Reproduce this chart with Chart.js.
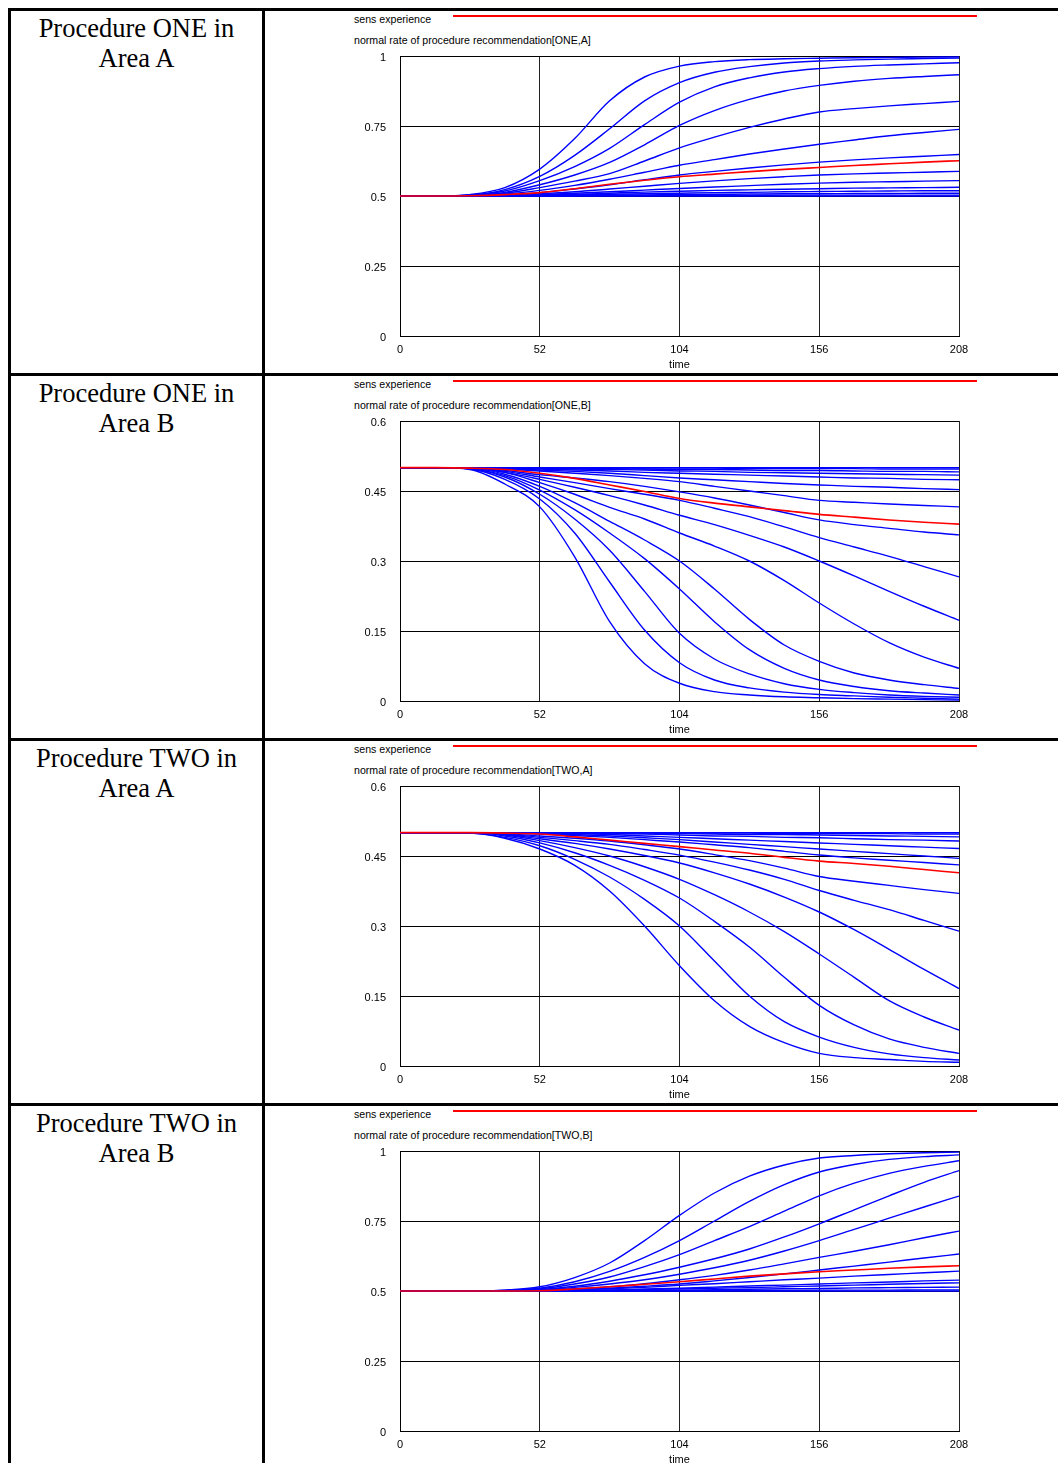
<!DOCTYPE html>
<html>
<head>
<meta charset="utf-8">
<script src="https://cdn.jsdelivr.net/npm/chart.js@4.4.1/dist/chart.umd.min.js"></script>
<style>
  html, body { margin: 0; padding: 0; background: #fff; }
  body { width: 1058px; height: 1463px; position: relative; overflow: hidden; }
  .rule { position: absolute; background: #000; }
  .label {
    position: absolute; left: 11px; width: 251px; text-align: center;
    font-family: "Liberation Serif", "Times New Roman", serif;
    font-size: 26.5px; line-height: 30px; color: #000;
  }
  .legend {
    position: absolute; left: 354px; white-space: nowrap; color: #000;
    font-family: "Liberation Sans", Arial, sans-serif; font-size: 10.6px; line-height: 12px;
  }
  .swatch { position: absolute; left: 453px; width: 524px; height: 2px; background: #ff0000; }
  canvas { position: absolute; left: 265px; }
</style>
</head>
<body>
<script>
const weeks = [0, 13, 26, 39, 52, 65, 78, 91, 104, 117, 130, 143, 156, 169, 182, 195, 208];
const xTicks = [0, 52, 104, 156, 208];
const xLabels = ["0", "52", "104", "156", "208"];
const yTicksFull = [0, 0.25, 0.5, 0.75, 1];
const yLabelsFull = ["0", "0.25", "0.5", "0.75", "1"];
const yTicksLow = [0, 0.15, 0.3, 0.45, 0.6];
const yLabelsLow = ["0", "0.15", "0.3", "0.45", "0.6"];

const rowLabels = ["Procedure ONE in<br>Area A", "Procedure ONE in<br>Area B",
  "Procedure TWO in<br>Area A", "Procedure TWO in<br>Area B"];
const baseName = "sens experience";
const varNames = ["normal rate of procedure recommendation[ONE,A]",
  "normal rate of procedure recommendation[ONE,B]",
  "normal rate of procedure recommendation[TWO,A]",
  "normal rate of procedure recommendation[TWO,B]"];

const oneABase = [0.5, 0.5, 0.501, 0.505, 0.512, 0.526, 0.542, 0.556, 0.569, 0.578, 0.587, 0.595, 0.602, 0.609, 0.615, 0.621, 0.626];
const oneARuns = [
  [0.5, 0.5, 0.505, 0.53, 0.596, 0.705, 0.84, 0.925, 0.964, 0.98, 0.987, 0.99, 0.992, 0.994, 0.995, 0.996, 0.997],
  [0.5, 0.5, 0.503, 0.523, 0.57, 0.645, 0.74, 0.84, 0.905, 0.942, 0.962, 0.975, 0.982, 0.986, 0.989, 0.991, 0.993],
  [0.5, 0.5, 0.503, 0.518, 0.555, 0.605, 0.67, 0.755, 0.835, 0.89, 0.922, 0.943, 0.955, 0.963, 0.968, 0.972, 0.976],
  [0.5, 0.5, 0.502, 0.513, 0.54, 0.575, 0.62, 0.683, 0.752, 0.805, 0.845, 0.875, 0.895, 0.91, 0.92, 0.927, 0.933],
  [0.5, 0.5, 0.502, 0.51, 0.53, 0.553, 0.58, 0.625, 0.672, 0.71, 0.745, 0.775, 0.8, 0.812, 0.822, 0.83, 0.838],
  [0.5, 0.5, 0.501, 0.507, 0.52, 0.538, 0.56, 0.585, 0.61, 0.63, 0.65, 0.668, 0.685, 0.7, 0.715, 0.727, 0.738],
  [0.5, 0.5, 0.501, 0.505, 0.512, 0.525, 0.54, 0.558, 0.575, 0.588, 0.6, 0.611, 0.621, 0.629, 0.636, 0.642, 0.648],
  [0.5, 0.5, 0.5, 0.503, 0.508, 0.515, 0.525, 0.535, 0.545, 0.554, 0.562, 0.569, 0.575, 0.579, 0.582, 0.585, 0.588],
  [0.5, 0.5, 0.5, 0.502, 0.505, 0.51, 0.515, 0.521, 0.527, 0.532, 0.537, 0.542, 0.546, 0.549, 0.551, 0.553, 0.555],
  [0.5, 0.5, 0.5, 0.501, 0.503, 0.506, 0.51, 0.514, 0.517, 0.52, 0.522, 0.524, 0.526, 0.528, 0.529, 0.53, 0.531],
  [0.5, 0.5, 0.5, 0.501, 0.502, 0.504, 0.506, 0.508, 0.51, 0.512, 0.513, 0.515, 0.516, 0.517, 0.518, 0.519, 0.519],
  [0.5, 0.5, 0.5, 0.5, 0.501, 0.502, 0.503, 0.504, 0.505, 0.506, 0.507, 0.508, 0.508, 0.509, 0.509, 0.51, 0.51],
  [0.5, 0.5, 0.5, 0.5, 0.5, 0.5, 0.501, 0.501, 0.502, 0.502, 0.502, 0.503, 0.503, 0.503, 0.503, 0.503, 0.503],
  [0.5, 0.5, 0.5, 0.5, 0.5, 0.5, 0.5, 0.5, 0.5, 0.5, 0.5, 0.5, 0.5, 0.5, 0.5, 0.5, 0.5]
];

const oneBBase = [0.5, 0.5, 0.499, 0.496, 0.488, 0.477, 0.463, 0.449, 0.434, 0.424, 0.416, 0.408, 0.4, 0.394, 0.388, 0.383, 0.379];
const oneBRuns = [
  [0.5, 0.5, 0.496, 0.465, 0.416, 0.309, 0.17, 0.08, 0.038, 0.02, 0.013, 0.009, 0.007, 0.005, 0.004, 0.003, 0.002],
  [0.5, 0.5, 0.497, 0.475, 0.433, 0.36, 0.255, 0.152, 0.082, 0.045, 0.028, 0.019, 0.014, 0.011, 0.008, 0.006, 0.004],
  [0.5, 0.5, 0.498, 0.48, 0.443, 0.39, 0.323, 0.235, 0.145, 0.09, 0.058, 0.037, 0.025, 0.018, 0.013, 0.01, 0.008],
  [0.5, 0.5, 0.498, 0.483, 0.452, 0.41, 0.36, 0.305, 0.24, 0.17, 0.11, 0.07, 0.045, 0.031, 0.022, 0.017, 0.013],
  [0.5, 0.5, 0.499, 0.486, 0.46, 0.425, 0.385, 0.345, 0.3, 0.24, 0.175, 0.12, 0.085, 0.06, 0.045, 0.035, 0.027],
  [0.5, 0.5, 0.499, 0.49, 0.468, 0.443, 0.415, 0.39, 0.36, 0.332, 0.3, 0.258, 0.21, 0.165, 0.125, 0.094, 0.07],
  [0.5, 0.5, 0.5, 0.49, 0.475, 0.458, 0.44, 0.42, 0.398, 0.378, 0.355, 0.33, 0.3, 0.268, 0.235, 0.203, 0.173],
  [0.5, 0.5, 0.5, 0.492, 0.48, 0.468, 0.455, 0.443, 0.43, 0.413, 0.395, 0.373, 0.35, 0.33, 0.31, 0.288, 0.266],
  [0.5, 0.5, 0.5, 0.494, 0.485, 0.478, 0.47, 0.46, 0.448, 0.435, 0.42, 0.404, 0.388, 0.378, 0.37, 0.362, 0.356],
  [0.5, 0.5, 0.5, 0.497, 0.493, 0.488, 0.483, 0.477, 0.47, 0.46, 0.45, 0.44, 0.43, 0.426, 0.422, 0.419, 0.416],
  [0.5, 0.5, 0.5, 0.498, 0.495, 0.492, 0.488, 0.483, 0.478, 0.474, 0.47, 0.466, 0.463, 0.46, 0.458, 0.455, 0.453],
  [0.5, 0.5, 0.5, 0.499, 0.497, 0.495, 0.493, 0.49, 0.488, 0.486, 0.484, 0.482, 0.48, 0.478, 0.477, 0.475, 0.474],
  [0.5, 0.5, 0.5, 0.499, 0.498, 0.497, 0.496, 0.495, 0.493, 0.492, 0.49, 0.489, 0.488, 0.487, 0.486, 0.485, 0.484],
  [0.5, 0.5, 0.5, 0.5, 0.499, 0.498, 0.498, 0.497, 0.496, 0.496, 0.495, 0.494, 0.494, 0.493, 0.492, 0.492, 0.491],
  [0.5, 0.5, 0.5, 0.5, 0.5, 0.5, 0.499, 0.499, 0.499, 0.499, 0.498, 0.498, 0.498, 0.498, 0.497, 0.497, 0.497],
  [0.5, 0.5, 0.5, 0.5, 0.5, 0.5, 0.5, 0.5, 0.5, 0.5, 0.5, 0.5, 0.5, 0.5, 0.5, 0.5, 0.5]
];

const twoABase = [0.5, 0.5, 0.5, 0.499, 0.497, 0.491, 0.484, 0.477, 0.47, 0.463, 0.456, 0.447, 0.439, 0.434, 0.428, 0.421, 0.414];
const twoARuns = [
  [0.5, 0.5, 0.499, 0.488, 0.465, 0.43, 0.375, 0.3, 0.215, 0.14, 0.085, 0.05, 0.027, 0.018, 0.014, 0.01, 0.008],
  [0.5, 0.5, 0.499, 0.49, 0.472, 0.443, 0.405, 0.357, 0.3, 0.225, 0.15, 0.095, 0.062, 0.04, 0.026, 0.018, 0.013],
  [0.5, 0.5, 0.5, 0.493, 0.478, 0.457, 0.43, 0.398, 0.36, 0.31, 0.255, 0.19, 0.13, 0.088, 0.058, 0.04, 0.027],
  [0.5, 0.5, 0.5, 0.495, 0.483, 0.468, 0.45, 0.427, 0.4, 0.367, 0.33, 0.288, 0.24, 0.19, 0.14, 0.105, 0.077],
  [0.5, 0.5, 0.5, 0.496, 0.487, 0.477, 0.465, 0.451, 0.435, 0.414, 0.39, 0.362, 0.33, 0.292, 0.25, 0.207, 0.166],
  [0.5, 0.5, 0.5, 0.497, 0.49, 0.483, 0.475, 0.464, 0.452, 0.437, 0.42, 0.4, 0.376, 0.355, 0.335, 0.312, 0.289],
  [0.5, 0.5, 0.5, 0.498, 0.493, 0.488, 0.482, 0.474, 0.465, 0.453, 0.44, 0.424, 0.406, 0.396, 0.387, 0.378, 0.37],
  [0.5, 0.5, 0.5, 0.499, 0.497, 0.494, 0.49, 0.485, 0.48, 0.474, 0.468, 0.46, 0.452, 0.446, 0.441, 0.436, 0.431],
  [0.5, 0.5, 0.5, 0.499, 0.498, 0.496, 0.493, 0.489, 0.485, 0.48, 0.475, 0.47, 0.465, 0.46, 0.455, 0.45, 0.445],
  [0.5, 0.5, 0.5, 0.5, 0.499, 0.498, 0.496, 0.493, 0.49, 0.487, 0.484, 0.481, 0.478, 0.475, 0.472, 0.469, 0.466],
  [0.5, 0.5, 0.5, 0.5, 0.5, 0.499, 0.498, 0.497, 0.495, 0.493, 0.492, 0.49, 0.489, 0.487, 0.485, 0.484, 0.482],
  [0.5, 0.5, 0.5, 0.5, 0.5, 0.5, 0.499, 0.499, 0.498, 0.497, 0.496, 0.496, 0.495, 0.494, 0.493, 0.492, 0.491],
  [0.5, 0.5, 0.5, 0.5, 0.5, 0.5, 0.5, 0.5, 0.499, 0.499, 0.499, 0.498, 0.498, 0.498, 0.498, 0.497, 0.497],
  [0.5, 0.5, 0.5, 0.5, 0.5, 0.5, 0.5, 0.5, 0.5, 0.5, 0.5, 0.5, 0.5, 0.5, 0.5, 0.5, 0.5]
];

const twoBBase = [0.5, 0.5, 0.5, 0.5, 0.501, 0.507, 0.515, 0.524, 0.533, 0.543, 0.553, 0.561, 0.569, 0.575, 0.581, 0.586, 0.59];
const twoBRuns = [
  [0.5, 0.5, 0.5, 0.503, 0.515, 0.548, 0.6, 0.68, 0.77, 0.85, 0.91, 0.95, 0.975, 0.984, 0.99, 0.994, 0.996],
  [0.5, 0.5, 0.5, 0.502, 0.51, 0.533, 0.57, 0.62, 0.68, 0.75, 0.82, 0.88, 0.925, 0.952, 0.97, 0.98, 0.986],
  [0.5, 0.5, 0.5, 0.502, 0.508, 0.525, 0.55, 0.587, 0.63, 0.68, 0.73, 0.785, 0.84, 0.885, 0.92, 0.945, 0.965],
  [0.5, 0.5, 0.5, 0.501, 0.505, 0.517, 0.535, 0.558, 0.585, 0.615, 0.65, 0.693, 0.74, 0.79, 0.84, 0.888, 0.93],
  [0.5, 0.5, 0.5, 0.501, 0.504, 0.513, 0.525, 0.54, 0.56, 0.583, 0.61, 0.643, 0.68, 0.72, 0.76, 0.8, 0.839],
  [0.5, 0.5, 0.5, 0.501, 0.503, 0.508, 0.515, 0.526, 0.54, 0.556, 0.575, 0.597, 0.62, 0.642, 0.665, 0.69, 0.714],
  [0.5, 0.5, 0.5, 0.5, 0.502, 0.505, 0.51, 0.517, 0.525, 0.536, 0.548, 0.561, 0.575, 0.589, 0.603, 0.618, 0.632],
  [0.5, 0.5, 0.5, 0.5, 0.501, 0.504, 0.508, 0.513, 0.52, 0.526, 0.533, 0.54, 0.546, 0.553, 0.559, 0.565, 0.571],
  [0.5, 0.5, 0.5, 0.5, 0.5, 0.502, 0.504, 0.507, 0.51, 0.514, 0.518, 0.521, 0.525, 0.529, 0.532, 0.536, 0.539],
  [0.5, 0.5, 0.5, 0.5, 0.5, 0.501, 0.503, 0.505, 0.507, 0.51, 0.512, 0.515, 0.518, 0.521, 0.524, 0.527, 0.529],
  [0.5, 0.5, 0.5, 0.5, 0.5, 0.5, 0.501, 0.502, 0.503, 0.505, 0.506, 0.508, 0.509, 0.511, 0.512, 0.513, 0.514],
  [0.5, 0.5, 0.5, 0.5, 0.5, 0.5, 0.5, 0.5, 0.501, 0.501, 0.502, 0.502, 0.503, 0.503, 0.503, 0.504, 0.504],
  [0.5, 0.5, 0.5, 0.5, 0.5, 0.5, 0.5, 0.5, 0.5, 0.5, 0.5, 0.5, 0.5, 0.5, 0.5, 0.5, 0.5]
];

const panels = [
  { base: oneABase, runs: oneARuns, yTicks: yTicksFull, yLabels: yLabelsFull },
  { base: oneBBase, runs: oneBRuns, yTicks: yTicksLow, yLabels: yLabelsLow },
  { base: twoABase, runs: twoARuns, yTicks: yTicksLow, yLabels: yLabelsLow },
  { base: twoBBase, runs: twoBRuns, yTicks: yTicksFull, yLabels: yLabelsFull }
];

const ROW_H = 365;
const tickFont = { family: "'Liberation Sans', Arial, sans-serif", size: 11 };

function addDiv(cls, style, html) {
  const d = document.createElement("div");
  d.className = cls;
  Object.assign(d.style, style);
  if (html) d.innerHTML = html;
  document.body.appendChild(d);
  return d;
}

function points(values) {
  return weeks.map((w, k) => ({ x: w, y: values[k] }));
}

// table frame
addDiv("rule", { left: "8px", top: "8px", width: "3px", height: "1463px" });
addDiv("rule", { left: "262px", top: "8px", width: "3px", height: "1463px" });

panels.forEach((p, i) => {
  const top = 8 + i * ROW_H;
  addDiv("rule", { left: "8px", top: top + "px", width: "1058px", height: "3px" });
  addDiv("label", { top: (top + 4.5) + "px" }, rowLabels[i]);
  addDiv("legend", { top: (top + 4.5) + "px" }, baseName);
  addDiv("legend", { top: (top + 25.5) + "px" }, varNames[i]);

  const canvas = document.createElement("canvas");
  canvas.width = 793;
  canvas.height = 362;
  canvas.style.top = (top + 3) + "px";
  document.body.appendChild(canvas);
  addDiv("swatch", { top: (top + 7) + "px" });

  const datasets = [{
    label: baseName,
    data: points(p.base),
    borderColor: "#ff0000",
    borderWidth: 1.6,
    order: 0
  }];
  p.runs.forEach((r) => {
    datasets.push({
      label: varNames[i],
      data: points(r),
      borderColor: "#0000ff",
      borderWidth: 1.4,
      order: 1
    });
  });

  new Chart(canvas.getContext("2d"), {
    type: "line",
    data: { datasets },
    options: {
      responsive: false,
      animation: false,
      devicePixelRatio: 1,
      layout: { padding: { top: 45, right: 99, left: 0, bottom: 0 } },
      elements: {
        point: { radius: 0 },
        line: { cubicInterpolationMode: "monotone", fill: false }
      },
      scales: {
        x: {
          type: "linear",
          min: 0,
          max: 208,
          afterBuildTicks: (s) => { s.ticks = xTicks.map((v) => ({ value: v })); },
          afterFit: (s) => { s.height = 37; },
          grid: { color: "#222", lineWidth: 1, drawTicks: false },
          border: { color: "#000", width: 1 },
          ticks: {
            padding: 7, color: "#000", font: tickFont, maxRotation: 0, autoSkip: false,
            callback: (v, idx) => xLabels[idx]
          },
          title: { display: true, text: "time", color: "#000", font: tickFont, padding: { top: 0, bottom: 1 } }
        },
        y: {
          min: 0,
          max: p.yTicks[p.yTicks.length - 1],
          afterBuildTicks: (s) => { s.ticks = p.yTicks.map((v) => ({ value: v })); },
          afterFit: (s) => { s.width = 135; },
          grid: { color: "#000", lineWidth: 1, drawTicks: false },
          border: { color: "#000", width: 1 },
          ticks: {
            padding: 14, labelOffset: 2, color: "#000", font: tickFont,
            callback: (v, idx) => p.yLabels[idx]
          }
        }
      },
      plugins: { legend: { display: false }, tooltip: { enabled: false } }
    }
  });
});
</script>
</body>
</html>
